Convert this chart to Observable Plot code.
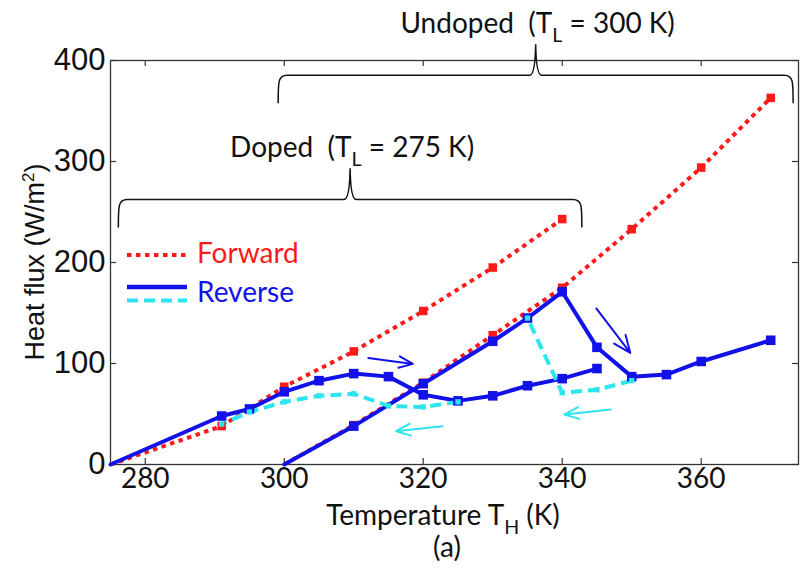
<!DOCTYPE html>
<html>
<head>
<meta charset="utf-8">
<script src="https://cdn.jsdelivr.net/npm/d3@7"></script>
<script src="https://cdn.jsdelivr.net/npm/@observablehq/plot@0.6"></script>
<style>
  html, body { margin: 0; padding: 0; background: #fff; }
  #chart svg { display: block; }
</style>
</head>
<body>
<div id="chart"></div>
<script>
// Doped sample (T_L = 275 K): heat flux (W/m²) against hot-side temperature T_H (K)
const dopedForwardT = [275, 291, 300, 310, 320, 330, 340];
const dopedForwardQ = [0, 38, 77, 112, 152, 195, 243];
const dopedReverseT = [275, 291, 295, 300, 305, 310, 315, 320, 325, 330, 335, 340, 345];
const dopedReverseQ = [0, 48, 55, 72, 83, 90, 87, 69, 63, 68, 78, 85, 95];
const dopedReturnT = [325, 320, 315, 310, 305, 300, 295, 291];
const dopedReturnQ = [62, 57, 58, 70, 68, 62, 52, 40];

// Undoped sample (T_L = 300 K)
const undopedForwardT = [300, 310, 320, 330, 340, 350, 360, 370];
const undopedForwardQ = [0, 39, 81, 128, 175, 233, 294, 363];
const undopedReverseT = [300, 310, 320, 330, 335, 340, 345, 350, 355, 360, 370];
const undopedReverseQ = [0, 38, 80, 122, 145, 171, 116, 87, 89, 102, 123];
const undopedReturnT = [350, 345, 340, 335];
const undopedReturnQ = [83, 74, 71, 145];

// Sweep-direction arrows
const arrowKind = ["up", "up", "down", "down"];
const arrowT1 = [312.1, 344.9, 322.8, 347.0];
const arrowQ1 = [105.5, 154.5, 37.9, 54.5];
const arrowT2 = [318.5, 349.8, 316.1, 340.3];
const arrowQ2 = [99.6, 110.5, 33.0, 49.5];

// Braces grouping the two samples
const groupName = ["Doped", "Undoped"];
const groupTL = ["275", "300"];
const groupFrom = [276.2, 299.2];
const groupTo = [342.9, 373.3];
const groupLevel = [262, 385];

// Axes
const xTicks = [280, 300, 320, 340, 360];
const yTicks = [0, 100, 200, 300, 400];
const xDomain = [275, 374];
const yDomain = [0, 400];

const legendLabels = ["Forward", "Reverse"];

const RED = "#ff1a1a", BLUE = "#1111e8", CYAN = "#2ee4ee";
const SANS = "'Liberation Sans', Arial, sans-serif";
const HUMAN = "Lato, 'Open Sans', sans-serif";

const W = 805, H = 571;
const M = {top: 60, right: 7, bottom: 107, left: 110};
const frameW = W - M.left - M.right, frameH = H - M.top - M.bottom;

const rows = (T, Q, series) => T.map((t, i) => ({T: t, Q: Q[i], series}));
const forward = [...rows(dopedForwardT, dopedForwardQ, "doped"), ...rows(undopedForwardT, undopedForwardQ, "undoped")];
const reverse = [...rows(dopedReverseT, dopedReverseQ, "doped"), ...rows(undopedReverseT, undopedReverseQ, "undoped")];
const returning = [...rows(dopedReturnT, dopedReturnQ, "doped"), ...rows(undopedReturnT, undopedReturnQ, "undoped")];
const arrows = arrowKind.map((k, i) => ({k, x1: arrowT1[i], y1: arrowQ1[i], x2: arrowT2[i], y2: arrowQ2[i]}));
const groups = groupName.map((n, i) => ({n, tl: groupTL[i], from: groupFrom[i], to: groupTo[i], level: groupLevel[i]}));

// text with a subscript run: [before, sub, after]
function subText(g, x, y, parts, size, family, anchor) {
  const t = g.append("text")
    .attr("x", x).attr("y", y)
    .attr("font-size", size).attr("font-family", family)
    .attr("text-anchor", anchor || "middle").attr("fill", "#111");
  t.append("tspan").text(parts[0]);
  if (parts[1]) {
    t.append("tspan").attr("dy", size * 0.32).attr("font-size", size * 0.7).text(parts[1]);
    t.append("tspan").attr("dy", -size * 0.32).text(parts[2]);
  }
  return t;
}

// braces + their labels, drawn through the plot's scales
function braces(index, scales) {
  const sx = scales.x || d3.scaleLinear(xDomain, [M.left, W - M.right]);
  const sy = scales.y || d3.scaleLinear(yDomain, [H - M.bottom, M.top]);
  const g = d3.create("svg:g");
  for (const b of groups) {
    const x1 = sx(b.from), x2 = sx(b.to), y = sy(b.level);
    const mid = sx((b.from + b.to) / 2);
    const p = d3.path();
    p.moveTo(x1, y + 28);
    p.bezierCurveTo(x1, y + 6, x1, y, x1 + 9, y);
    p.lineTo(mid - 6, y);
    p.quadraticCurveTo(mid - 0.5, y, mid, y - 31);
    p.quadraticCurveTo(mid + 0.5, y, mid + 6, y);
    p.lineTo(x2 - 9, y);
    p.bezierCurveTo(x2, y, x2, y + 6, x2, y + 28);
    g.append("path").attr("d", p.toString()).attr("fill", "none")
      .attr("stroke", "#111").attr("stroke-width", 1.5);
    subText(g, mid + 2, y - 42, [`${b.n}  (T`, "L", ` = ${b.tl} K)`], 28, HUMAN);
  }
  return g.node();
}

// legend in the upper-left of the frame
function legend() {
  const g = d3.create("svg:g");
  const lx = M.left + 17, tx = M.left + 87;
  g.append("line").attr("x1", lx).attr("x2", lx + 60).attr("y1", 255).attr("y2", 255)
    .attr("stroke", RED).attr("stroke-width", 4).attr("stroke-dasharray", "4.5,4.5");
  g.append("text").attr("x", tx).attr("y", 263).attr("font-size", 28).attr("font-family", HUMAN)
    .attr("text-anchor", "start").attr("fill", RED).text(legendLabels[0]);
  g.append("line").attr("x1", lx).attr("x2", lx + 60).attr("y1", 287).attr("y2", 287)
    .attr("stroke", BLUE).attr("stroke-width", 4.5);
  g.append("line").attr("x1", lx).attr("x2", lx + 60).attr("y1", 300.5).attr("y2", 300.5)
    .attr("stroke", CYAN).attr("stroke-width", 4).attr("stroke-dasharray", "11,6");
  g.append("text").attr("x", tx).attr("y", 302).attr("font-size", 28).attr("font-family", HUMAN)
    .attr("text-anchor", "start").attr("fill", BLUE).text(legendLabels[1]);
  return g.node();
}

// axis titles and panel tag
function titles() {
  const g = d3.create("svg:g");
  subText(g, 443, 525, ["Temperature T", "H", " (K)"], 28, HUMAN);
  g.append("text").attr("x", 447).attr("y", 557).attr("font-size", 28).attr("font-family", HUMAN)
    .attr("text-anchor", "middle").attr("fill", "#111").text("(a)");
  const t = g.append("text").attr("x", 0).attr("y", 0)
    .attr("transform", `translate(44,${M.top + frameH / 2}) rotate(-90)`)
    .attr("font-size", 27).attr("font-family", SANS).attr("text-anchor", "middle").attr("fill", "#111");
  t.append("tspan").text("Heat flux (W/m");
  t.append("tspan").attr("dy", -10).attr("font-size", 17).text("2");
  t.append("tspan").attr("dy", 10).text(")");
  return g.node();
}

const chart = Plot.plot({
  width: W, height: H,
  marginTop: M.top, marginRight: M.right, marginBottom: M.bottom, marginLeft: M.left,
  x: {domain: xDomain, axis: null},
  y: {domain: yDomain, axis: null},
  style: {background: "#fff", overflow: "visible"},
  marks: [
    Plot.frame({stroke: "#333", strokeWidth: 1.3}),
    // inward ticks on all four sides
    Plot.tickX(xTicks, {x: d => d, insetTop: frameH - 6, stroke: "#333", strokeWidth: 1.2}),
    Plot.tickX(xTicks, {x: d => d, insetBottom: frameH - 6, stroke: "#333", strokeWidth: 1.2}),
    Plot.tickY(yTicks, {y: d => d, insetRight: frameW - 6, stroke: "#333", strokeWidth: 1.2}),
    Plot.tickY(yTicks, {y: d => d, insetLeft: frameW - 6, stroke: "#333", strokeWidth: 1.2}),
    Plot.text(xTicks, {x: d => d, frameAnchor: "bottom", dy: 23, fontSize: 28, fontFamily: HUMAN, fill: "#111", text: d => String(d)}),
    Plot.text(yTicks, {y: d => d, frameAnchor: "left", dx: -5, textAnchor: "end", fontSize: 31, fontFamily: SANS, fill: "#111", text: d => String(d)}),

    // forward sweeps
    Plot.line(forward, {x: "T", y: "Q", z: "series", stroke: RED, strokeWidth: 4, strokeDasharray: "4.5,4.5", strokeLinecap: "butt"}),
    // reverse sweeps
    Plot.line(reverse, {x: "T", y: "Q", z: "series", stroke: BLUE, strokeWidth: 4}),
    // return branches
    Plot.line(returning, {x: "T", y: "Q", z: "series", stroke: CYAN, strokeWidth: 4, strokeDasharray: "11,6", strokeLinecap: "butt"}),
    Plot.dot(forward.filter(d => d.Q > 0), {x: "T", y: "Q", symbol: "square", r: 4.8, fill: RED}),
    Plot.dot(reverse.filter(d => d.Q > 0), {x: "T", y: "Q", symbol: "square", r: 5.4, fill: BLUE}),
    Plot.dot(returning, {x: "T", y: "Q", symbol: "square", r: 3, fill: CYAN}),

    Plot.arrow(arrows, {x1: "x1", y1: "y1", x2: "x2", y2: "y2",
      stroke: d => d.k === "up" ? BLUE : CYAN, strokeWidth: 2, headLength: 16, headAngle: 45}),

    braces,
    legend,
    titles
  ]
});

document.getElementById("chart").append(chart);
</script>
</body>
</html>
